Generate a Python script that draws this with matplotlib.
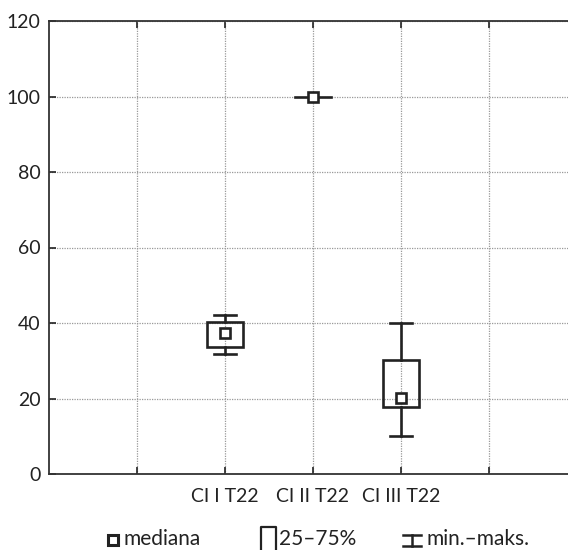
import matplotlib
matplotlib.use("Agg")
import matplotlib.pyplot as plt
from matplotlib.lines import Line2D
from matplotlib.patches import Rectangle

plt.rcParams['font.family'] = ['Lato', 'DejaVu Sans']

# dane
grupy = ["CI I T22", "CI II T22", "CI III T22"]
pozycje = [2, 3, 4]
mediana = [37.3, 100, 20.1]
q25 = [33.7, 100, 17.7]
q75 = [40.2, 100, 30.2]
wmin = [31.8, 100, 10.1]
wmax = [42.1, 100, 40.0]

fig = plt.figure(figsize=(5.68, 5.5), dpi=100)
W, H = 568, 550
x0, y0, y1 = 49, 474, 21
px = 88.0  # pikseli na jednostke osi x
ax = fig.add_axes([x0 / W, (H - y0) / H, 6 * px / W, (y0 - y1) / H])
ax.set_xlim(0, 6)
ax.set_ylim(0, 120)

kol = "#222222"
lw = 1.9
bw = 0.41
cw = 0.25
for p, m, a, b, lo, hi in zip(pozycje, mediana, q25, q75, wmin, wmax):
    if b > a:
        ax.add_patch(Rectangle((p - bw / 2, a), bw, b - a, fill=False,
                               edgecolor=kol, lw=lw, zorder=3))
        ax.plot([p, p], [b, hi], color=kol, lw=lw, zorder=3)
        ax.plot([p, p], [lo, a], color=kol, lw=lw, zorder=3)
        ax.plot([p - cw / 2, p + cw / 2], [hi, hi], color=kol, lw=lw, zorder=3)
        ax.plot([p - cw / 2, p + cw / 2], [lo, lo], color=kol, lw=lw, zorder=3)
    else:
        ax.plot([p - bw / 2, p + bw / 2], [m, m], color=kol, lw=lw, zorder=3)
    ax.plot([p], [m], marker="s", ms=7, mfc="white", mec=kol, mew=1.9, zorder=4)

ax.set_xticks([1, 2, 3, 4, 5])
ax.set_xticklabels(["", grupy[0], grupy[1], grupy[2], ""])
ax.set_yticks(range(0, 121, 20))
ax.grid(True, linestyle=(0, (1, 1)), color="#999999", lw=0.9, zorder=0)
ax.tick_params(direction="in", length=5, width=1.2, colors=kol, labelsize=14,
               top=True, pad=6)
ax.tick_params(axis="x", pad=10)
for s in ["left", "top", "bottom"]:
    ax.spines[s].set_linewidth(1.3)
    ax.spines[s].set_color("#333333")
ax.spines["right"].set_visible(False)

# legenda
tf = fig.transFigure
ly = 1 - 540 / H
tb = 1 - 549 / H
fig.add_artist(Line2D([112.5 / W], [ly], marker="s", ms=7, mfc="white", mec=kol,
                      mew=2.2, transform=tf))
fig.text(124 / W, tb, "mediana", fontsize=15, va="bottom", color=kol)
fig.add_artist(Line2D([261 / W, 261 / W, 276 / W, 276 / W],
                      [1 - 552 / H, 1 - 527 / H, 1 - 527 / H, 1 - 552 / H],
                      color=kol, lw=1.6, transform=tf))
fig.text(279 / W, tb, "25–75%", fontsize=15, va="bottom", color=kol)
fig.add_artist(Line2D([412 / W, 412 / W], [1 - 535 / H, 1 - 546 / H],
                      color=kol, lw=1.8, transform=tf))
fig.add_artist(Line2D([403 / W, 421 / W], [1 - 535 / H, 1 - 535 / H],
                      color=kol, lw=1.8, transform=tf))
fig.add_artist(Line2D([403 / W, 421 / W], [1 - 546 / H, 1 - 546 / H],
                      color=kol, lw=1.8, transform=tf))
fig.text(426 / W, tb, "min.–maks.", fontsize=15, va="bottom", color=kol)

fig.savefig("out.png", dpi=100)
